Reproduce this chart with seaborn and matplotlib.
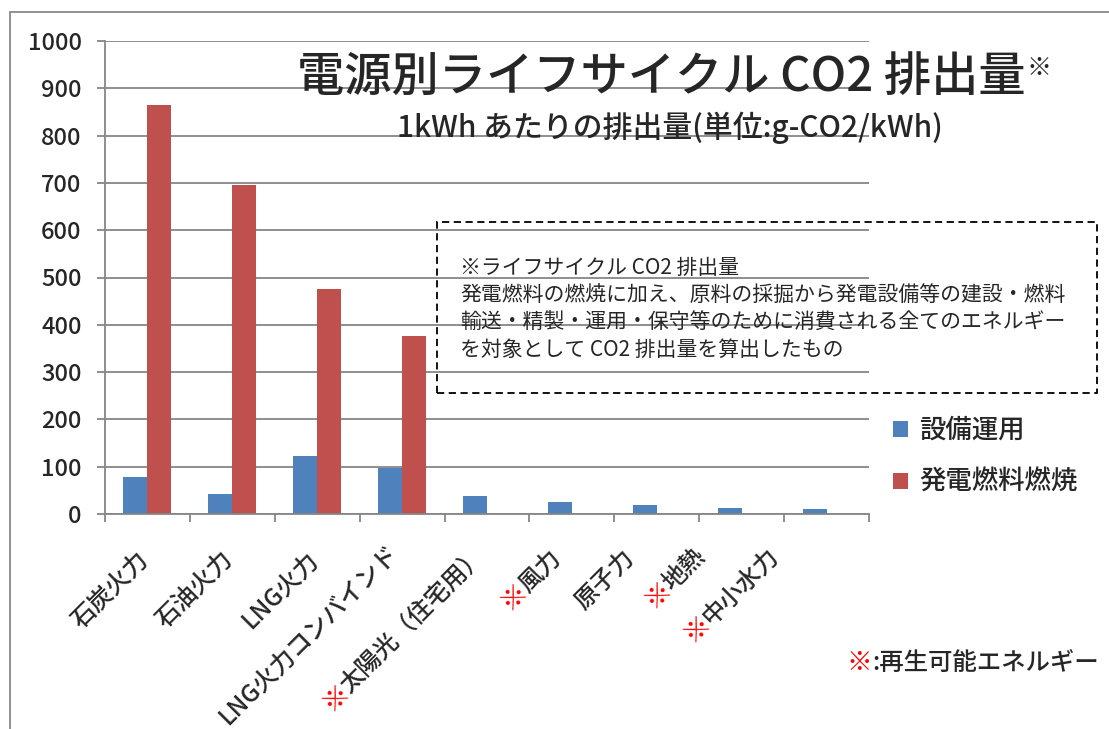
import numpy as np
import pandas as pd
import matplotlib
matplotlib.use("Agg")
import matplotlib.pyplot as plt
import seaborn as sns
from matplotlib.patches import Rectangle

# 電源別ライフサイクルCO2排出量 (g-CO2/kWh)
categories = ["石炭火力", "石油火力", "LNG火力", "LNG火力コンバインド", "太陽光（住宅用）",
              "風力", "原子力", "地熱", "中小水力"]
renewable = [False, False, False, False, True, True, False, True, True]
setsubi = [79, 43, 123, 98, 38, 25, 19, 13, 11]
nenryo = [864, 695, 476, 376, 0, 0, 0, 0, 0]
series = ["設備運用", "発電燃料燃焼"]
yticks = list(range(0, 1001, 100))

notes = [
    "※ライフサイクル CO2 排出量",
    "発電燃料の燃焼に加え、原料の採掘から発電設備等の建設・燃料",
    "輸送・精製・運用・保守等のために消費される全てのエネルギー",
    "を対象として CO2 排出量を算出したもの",
]

# label anchor offsets in pixels (excel-ish placement)
label_dx = [-3, -3, -3, -8, -5, -15, -27, -40, -52]
label_dy = [-42, -42, -42, -35, -38, -40, -40, -38, -38]

sns.set_style("white")
plt.rcParams['font.family'] = ['Noto Sans CJK JP', 'DejaVu Sans']
plt.rcParams['font.weight'] = 'medium'

W, H = 1109, 729
fig = plt.figure(figsize=(W / 100, H / 100), dpi=100)
ax = fig.add_axes([105 / W, 1 - 514 / H, (869 - 105) / W, (514 - 41) / H])

df = pd.DataFrame({
    "電源": categories * 2,
    "区分": [series[0]] * len(categories) + [series[1]] * len(categories),
    "排出量": setsubi + nenryo,
})

grey = "#868686"
sns.barplot(data=df, x="電源", y="排出量", hue="区分", hue_order=series,
            palette=["#4F81BD", "#C0504D"], saturation=1, width=0.565,
            linewidth=0, ax=ax)

ax.set_xlim(-0.5, len(categories) - 0.5)
ax.set_ylim(0, 1000)
ax.set_yticks(yticks)
ax.set_yticklabels([str(v) for v in yticks], fontsize=17)
ax.tick_params(axis="y", length=5.8, width=1.3, color=grey, pad=11, left=True)
ax.set_xticks(np.arange(-0.5, len(categories)), minor=True)
ax.tick_params(axis="x", which="minor", length=5.8, width=1.3, color=grey, bottom=True)
ax.tick_params(axis="x", which="major", length=0, labelbottom=False)
ax.set_xlabel("")
ax.set_ylabel("")
ax.yaxis.grid(True, color=grey, linewidth=1.3)
ax.set_axisbelow(True)
for s in ["top", "right"]:
    ax.spines[s].set_visible(False)
for s in ["left", "bottom"]:
    ax.spines[s].set_color(grey)
    ax.spines[s].set_linewidth(1.3)

# legend
handles, labels = ax.get_legend_handles_labels()
ax.legend(handles, labels, loc="upper left", bbox_to_anchor=(893 / W, 1 - 417 / H),
          bbox_transform=fig.transFigure, frameon=False, fontsize=19,
          handlelength=0.55, handleheight=0.55, handletextpad=0.45,
          labelspacing=0.95, borderpad=0, borderaxespad=0)

# category labels, with red ※ for renewables
renderer = fig.canvas.get_renderer()
lab_size = 17.5
for i, (cat, ren) in enumerate(zip(categories, renewable)):
    t = ax.annotate(cat, xy=(i, 0), xycoords=("data", "axes fraction"),
                    xytext=(label_dx[i], label_dy[i]), textcoords="offset pixels",
                    rotation=45, rotation_mode="anchor", ha="right", va="center",
                    fontsize=lab_size)
    if ren:
        w, h, d = renderer.get_text_width_height_descent(cat, t.get_fontproperties(), ismath=False)
        w -= 1
        ax.annotate("※", xy=(i, 0), xycoords=("data", "axes fraction"),
                    xytext=(label_dx[i] - w * np.cos(np.pi / 4), label_dy[i] - w * np.sin(np.pi / 4)),
                    textcoords="offset pixels", rotation=45, rotation_mode="anchor",
                    ha="right", va="center", fontsize=lab_size + 2, color="#FF0000")

# title
title = fig.text(661 / W, 1 - 77 / H, "電源別ライフサイクル CO2 排出量", fontsize=34,
                 ha="center", va="center")
fig.canvas.draw()
bb = title.get_window_extent(renderer)
fig.text((bb.x1 + 1) / W, bb.y1 / H - 0.004, "※", fontsize=18, ha="left", va="top")
fig.text(670 / W, 1 - 128 / H, "1kWh あたりの排出量(単位:g-CO2/kWh)", fontsize=21.5,
         ha="center", va="center")

# note box
fig.add_artist(Rectangle((437 / W, 1 - 393 / H), 660 / W, 171 / H, transform=fig.transFigure,
                         fill=False, edgecolor="black", linewidth=1.3, linestyle=(0, (4, 2.5))))
for k, line in enumerate(notes):
    fig.text(460 / W, 1 - (268 + k * 27.3) / H, line, fontsize=15, ha="left", va="center",
             fontweight="normal")

# renewable note
fig.text(846 / W, 1 - 663 / H, "※", fontsize=18.5, color="#FF0000", ha="left", va="center")
fig.text(872 / W, 1 - 663 / H, ":再生可能エネルギー", fontsize=17.6, ha="left", va="center")

# outer frame
fig.add_artist(Rectangle((10 / W, -0.1), 1.2, 1.1 - 12 / H, transform=fig.transFigure,
                         fill=False, edgecolor="#898989", linewidth=1.3))

fig.savefig("out.png", dpi=100)
